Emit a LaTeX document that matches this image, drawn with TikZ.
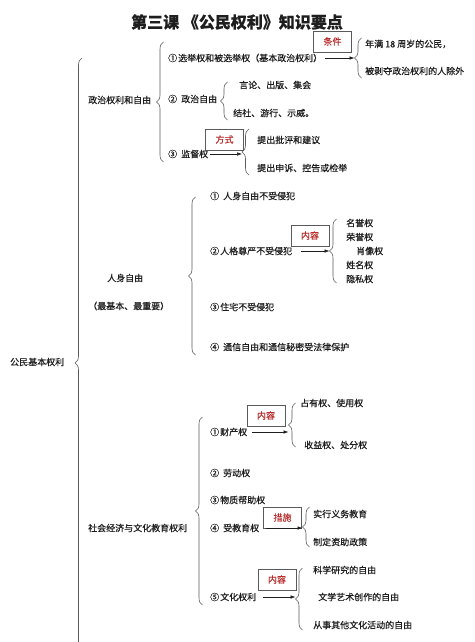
\documentclass[tikz,border=0pt]{standalone}
\usepackage{fontspec}
\setmainfont{Noto Sans CJK SC}[FakeBold=0.4]
\usetikzlibrary{decorations.pathreplacing,arrows.meta}
\definecolor{boxred}{RGB}{185,45,45}
\definecolor{ink}{RGB}{30,30,30}
\definecolor{bracegray}{RGB}{90,90,90}
\newcommand{\cnum}[1]{\makebox[10pt][l]{#1}}
\newcommand{\lp}{\makebox[9pt][r]{（}}
\newcommand{\rp}{\makebox[9pt][l]{）}}
\begin{document}
\begin{tikzpicture}[x=1pt,y=-1pt,
  txt/.style={anchor=west,inner sep=0pt,font=\fontsize{9}{10}\selectfont,text=ink},
  lbl/.style={draw=bracegray,line width=0.6pt,fill=white,minimum width=38pt,minimum height=21pt,inner sep=0pt,font=\fontsize{9}{10}\selectfont,text=boxred},
  brc/.style={decorate,decoration={brace,amplitude=7pt},draw=bracegray,line width=0.6pt},
  arr/.style={-{Latex[length=5pt,width=3.5pt]},draw=ink,line width=0.5pt}]
\clip (0,0) rectangle (474,642);
\fill[white] (0,0) rectangle (474,642);

\node[font=\fontsize{16}{18}\selectfont\bfseries,text=ink] (title) at (237,22) {第三课 《公民权利》知识要点};

% root
\node[txt] (root) at (10,362) {公民基本权利};
\draw[brc] (82,668) -- (82,58);

% political
\node[txt] (pol) at (88,100) {政治权利和自由};
\draw[brc] (163.5,162) -- (163.5,42);

\node[txt] (p1) at (168,58) {\cnum{①}选举权和被选举权\lp 基本政治权利\rp};
\node[lbl] (c1) at (332.5,41.5) {条件};
\draw[brc] (361.5,78) -- (361.5,38);
\coordinate (t1) at (354.5,58);
\draw[arr] ([xshift=3pt]p1.east) -- (p1.east -| t1);
\node[txt] (p1a) at (365,44) {年满 18 周岁的公民，};
\node[txt] (p1b) at (365,71) {被剥夺政治权利的人除外};

\node[txt] (p2) at (168,99) {\cnum{②}\hspace{3pt}政治自由};
\draw[brc] (227.5,120) -- (227.5,82);
\node[txt] (p2a) at (239,85) {言论、出版、集会};
\node[txt] (p2b) at (233,113) {结社、游行、示威。};

\node[txt] (p3) at (168,154) {\cnum{③}\hspace{3pt}监督权};
\node[lbl] (c2) at (224.5,139.5) {方式};
\draw[brc] (249,175) -- (249,129);
\coordinate (t3) at (242,154);
\draw[arr] ([xshift=2pt]p3.east) -- (p3.east -| t3);
\node[txt] (p3a) at (257,140) {提出批评和建议};
\node[txt] (p3b) at (257,168) {提出申诉、控告或检举};

% personal
\node[txt] (per) at (107,278) {人身自由};
\node[txt] (per2) at (88,306) {\lp 最基本、最重要\rp};
\draw[brc] (195.5,355) -- (195.5,197);
\node[txt] (q1) at (210,196) {\cnum{①}\hspace{3pt}人身自由不受侵犯};
\node[txt] (q2) at (210,251) {\cnum{②}人格尊严不受侵犯};
\node[lbl] (c3) at (310,235.5) {内容};
\draw[brc] (336.5,283) -- (336.5,219);
\coordinate (t4) at (329.5,251);
\draw[arr] ([xshift=9pt]q2.east) -- (q2.east -| t4);
\node[txt] (q2a) at (346,223) {名誉权};
\node[txt] (q2b) at (346,237) {荣誉权};
\node[txt] (q2c) at (356,251) {肖像权};
\node[txt] (q2d) at (346,265) {姓名权};
\node[txt] (q2e) at (346,279) {隐私权};
\node[txt] (q3) at (210,307) {\cnum{③}住宅不受侵犯};
\node[txt] (q4) at (210,347) {\cnum{④}\hspace{3pt}通信自由和通信秘密受法律保护};

% social
\node[txt] (soc) at (88,528) {社会经济与文化教育权利};
\draw[brc] (202.5,605) -- (202.5,417);
\node[txt] (s1) at (210,432) {\cnum{①}财产权};
\node[lbl] (c4) at (266,415.5) {内容};
\draw[brc] (295.5,447) -- (295.5,403);
\coordinate (t5) at (288.5,425);
\draw[arr] ([xshift=5pt]s1.east) -- (s1.east -| t5);
\node[txt] (s1a) at (300,403) {占有权、使用权};
\node[txt] (s1b) at (304,445) {收益权、处分权};
\node[txt] (s2) at (210,473) {\cnum{②}\hspace{3pt}劳动权};
\node[txt] (s3) at (210,500) {\cnum{③}物质帮助权};
\node[txt] (s4) at (210,528) {\cnum{④}\hspace{3pt}受教育权};
\node[lbl] (c5) at (282.5,517.5) {措施};
\draw[brc] (309.5,547) -- (309.5,507);
\coordinate (t6) at (302.5,527);
\draw[arr] ([xshift=7pt]s4.east) -- (s4.east -| t6);
\node[txt] (s4a) at (313,514) {实行义务教育};
\node[txt] (s4b) at (313,542) {制定资助政策};
\node[txt] (s5) at (210,597) {\cnum{⑤}文化权利};
\node[lbl] (c6) at (277,579.5) {内容};
\draw[brc] (302.5,630) -- (302.5,568);
\coordinate (t7) at (295.5,599);
\draw[arr] ([xshift=7pt]s5.east) -- (s5.east -| t7);
\node[txt] (s5a) at (313,570) {科学研究的自由};
\node[txt] (s5b) at (318,597) {文学艺术创作的自由};
\node[txt] (s5c) at (313,625) {从事其他文化活动的自由};
\end{tikzpicture}
\end{document}
